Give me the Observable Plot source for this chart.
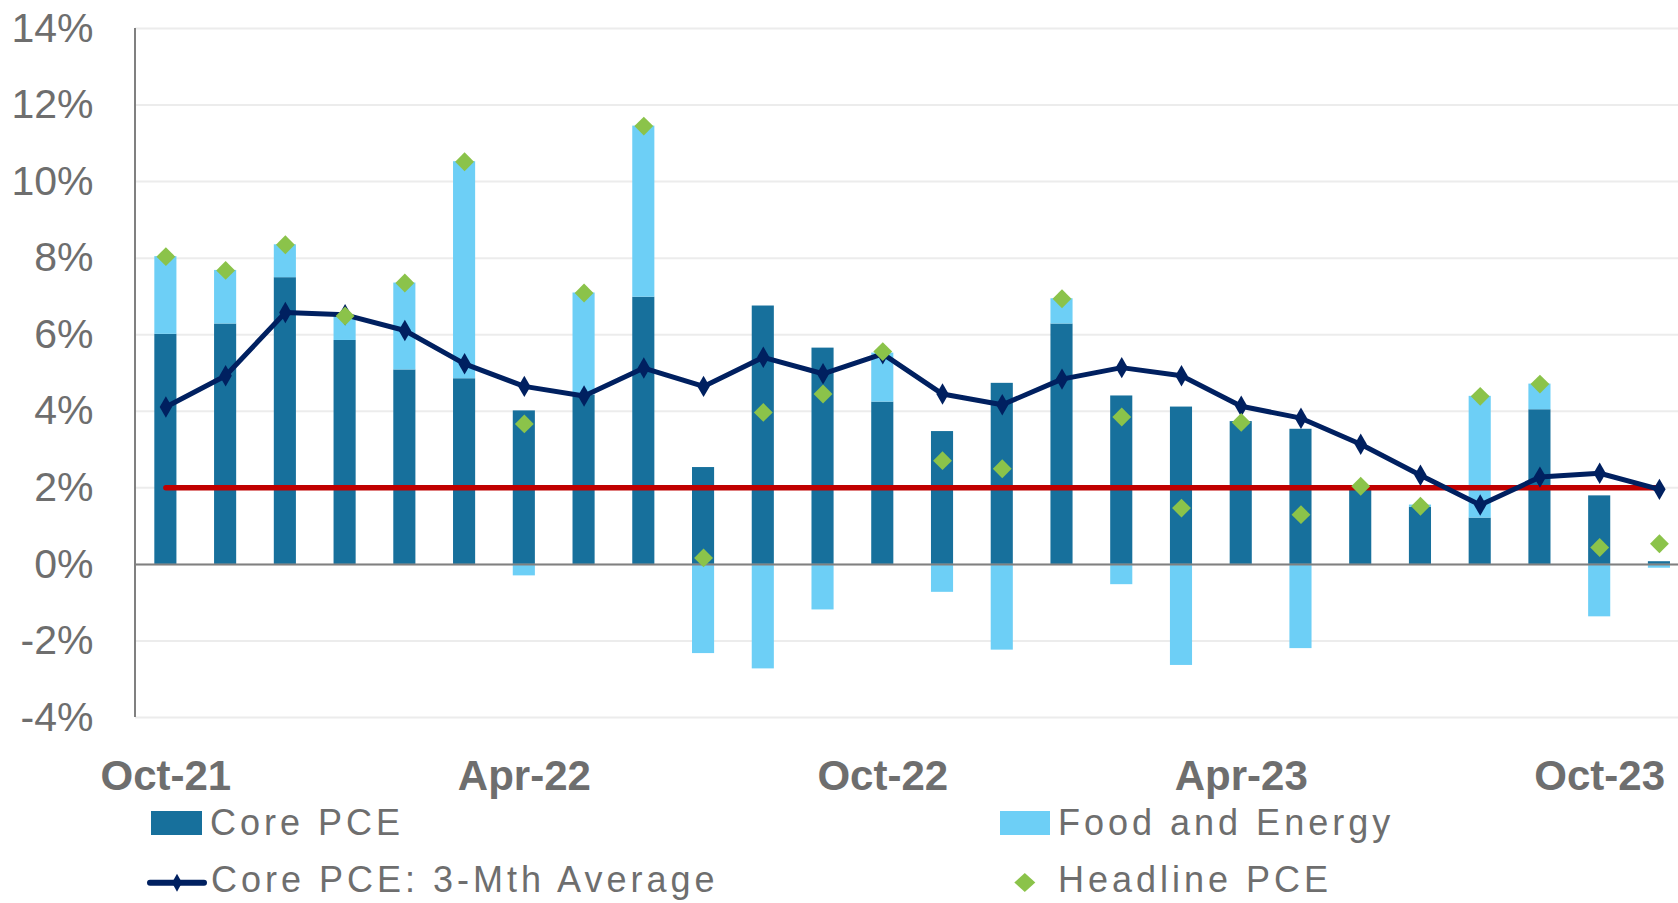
<!DOCTYPE html>
<html><head><meta charset="utf-8">
<script src="https://cdn.jsdelivr.net/npm/d3@7"></script>
<script src="https://cdn.jsdelivr.net/npm/@observablehq/plot@0.6"></script>
<style>
html,body{margin:0;padding:0;background:#fff;overflow:hidden}
#wrap{position:relative;width:1678px;height:903px;overflow:hidden;font-family:"Liberation Sans",Arial,sans-serif;color:#6e6e6e}
.lg{position:absolute;font-size:36px;line-height:36px;letter-spacing:4px;white-space:nowrap}
.sw{position:absolute}
</style></head><body><div id="wrap"></div>
<script>
const months = ["Oct-21","Nov-21","Dec-21","Jan-22","Feb-22","Mar-22","Apr-22","May-22","Jun-22","Jul-22","Aug-22","Sep-22","Oct-22","Nov-22","Dec-22","Jan-23","Feb-23","Mar-23","Apr-23","May-23","Jun-23","Jul-23","Aug-23","Sep-23","Oct-23","Nov-23"];
const corePCE =    [6.01,6.28,7.49,5.85,5.08,4.85,4.01,4.42,6.98,2.53,6.75,5.65,4.24,3.47,4.73,6.28,4.40,4.11,3.73,3.53,2.04,1.49,1.21,4.04,1.79,0.07];
const foodEnergy = [2.03,1.40,0.86,0.64,2.27,5.67,-0.30,2.67,4.47,-2.33,-2.73,-1.19,1.28,-0.73,-2.24,0.66,-0.53,-2.64,-0.03,-2.20,0.00,0.06,3.18,0.67,-1.37,-0.10];
const headlinePCE =[8.04,7.68,8.35,6.49,7.35,10.52,3.67,7.09,11.45,0.17,3.97,4.45,5.56,2.71,2.50,6.94,3.85,1.47,3.71,1.30,2.04,1.52,4.39,4.71,0.44,0.54];
const core3mAvg =  [4.11,4.93,6.58,6.52,6.11,5.24,4.65,4.40,5.13,4.65,5.41,4.98,5.50,4.45,4.17,4.84,5.14,4.93,4.13,3.82,3.14,2.33,1.55,2.28,2.38,1.96];
const xTicks = ["Oct-21","Apr-22","Oct-22","Apr-23","Oct-23"];
const yTicks = [-4,-2,0,2,4,6,8,10,12,14];
const target = 2;
const seriesNames = ["Core PCE","Food and Energy"];

const C = {core:"#17709c", fe:"#6dcff6", navy:"#002060", green:"#8bc34a", red:"#c00000", grid:"#ececec", axis:"#808080", text:"#6e6e6e"};

const stacked = [
  ...months.map((m,i)=>({month:m, series:seriesNames[0], value:corePCE[i]})),
  ...months.map((m,i)=>({month:m, series:seriesNames[1], value:foodEnergy[i]}))
];
const rows = months.map((m,i)=>({month:m, headline:headlinePCE[i], avg:core3mAvg[i], target}));

const yAxisLine = (index, scales, values, dims) => {
  const l = document.createElementNS("http://www.w3.org/2000/svg","line");
  l.setAttribute("x1", dims.marginLeft); l.setAttribute("x2", dims.marginLeft);
  l.setAttribute("y1", scales.y(14)); l.setAttribute("y2", scales.y(-4));
  l.setAttribute("stroke", C.axis); l.setAttribute("stroke-width", 2);
  return l;
};

const chart = Plot.plot({
  width: 1678, height: 805,
  marginLeft: 135, marginRight: 0, marginTop: 28, marginBottom: 88,
  style: {fontFamily: '"Liberation Sans", Arial, sans-serif', color: C.text, background: "transparent"},
  x: {type: "band", domain: months, range: [135.5, 1688.8], paddingInner: 0.63, paddingOuter: 0.315, align: 0.5, round: false, label: null},
  y: {domain: [-4, 14], label: null},
  color: {domain: seriesNames, range: [C.core, C.fe]},
  marks: [
    Plot.ruleY(yTicks, {stroke: C.grid, strokeWidth: 2}),
    Plot.barY(stacked, {x: "month", y: "value", fill: "series"}),
    Plot.ruleY([0], {stroke: C.axis, strokeWidth: 2}),
    yAxisLine,
    Plot.lineY(rows, {x: "month", y: "target", stroke: C.red, strokeWidth: 5.5, strokeLinecap: "round"}),
    Plot.lineY(rows, {x: "month", y: "avg", stroke: C.navy, strokeWidth: 5}),
    Plot.dot(rows, {x: "month", y: "avg", symbol: "diamond", r: 6.5, fill: C.navy}),
    Plot.dot(rows, {x: "month", y: "headline", symbol: "diamond2", r: 8.5, fill: C.green}),
    Plot.axisY({ticks: yTicks, tickFormat: d => d + "%", tickSize: 0, tickPadding: 42, fontSize: 41, label: null}),
    Plot.axisX({ticks: xTicks, tickSize: 0, tickPadding: 42.5, fontSize: 42, fontWeight: "bold", label: null})
  ]
});
const wrap = document.getElementById("wrap");
chart.style.position = "absolute"; chart.style.left = "0px"; chart.style.top = "0px";
wrap.appendChild(chart);

const legend = document.createElement("div");
legend.innerHTML = `
  <div class="sw" style="left:151px;top:811px;width:51px;height:24px;background:${C.core}"></div>
  <div class="lg" style="left:210px;top:805px">${seriesNames[0]}</div>
  <div class="sw" style="left:1000px;top:811px;width:50px;height:24px;background:${C.fe}"></div>
  <div class="lg" style="left:1058px;top:805px">${seriesNames[1]}</div>
  <svg class="sw" style="left:146px;top:870px" width="62" height="26">
    <line x1="4" x2="58" y1="12.7" y2="12.7" stroke="${C.navy}" stroke-width="6" stroke-linecap="round"/>
    <path d="M31,3.7L36,12.7L31,21.7L26,12.7Z" fill="${C.navy}"/>
  </svg>
  <div class="lg" style="left:211px;top:862px">Core PCE: 3-Mth Average</div>
  <svg class="sw" style="left:1012px;top:870px" width="26" height="26">
    <path d="M12.8,3L23.3,12.5L12.8,22L2.3,12.5Z" fill="${C.green}"/>
  </svg>
  <div class="lg" style="left:1058px;top:862px">Headline PCE</div>`;
wrap.appendChild(legend);
</script></body></html>
